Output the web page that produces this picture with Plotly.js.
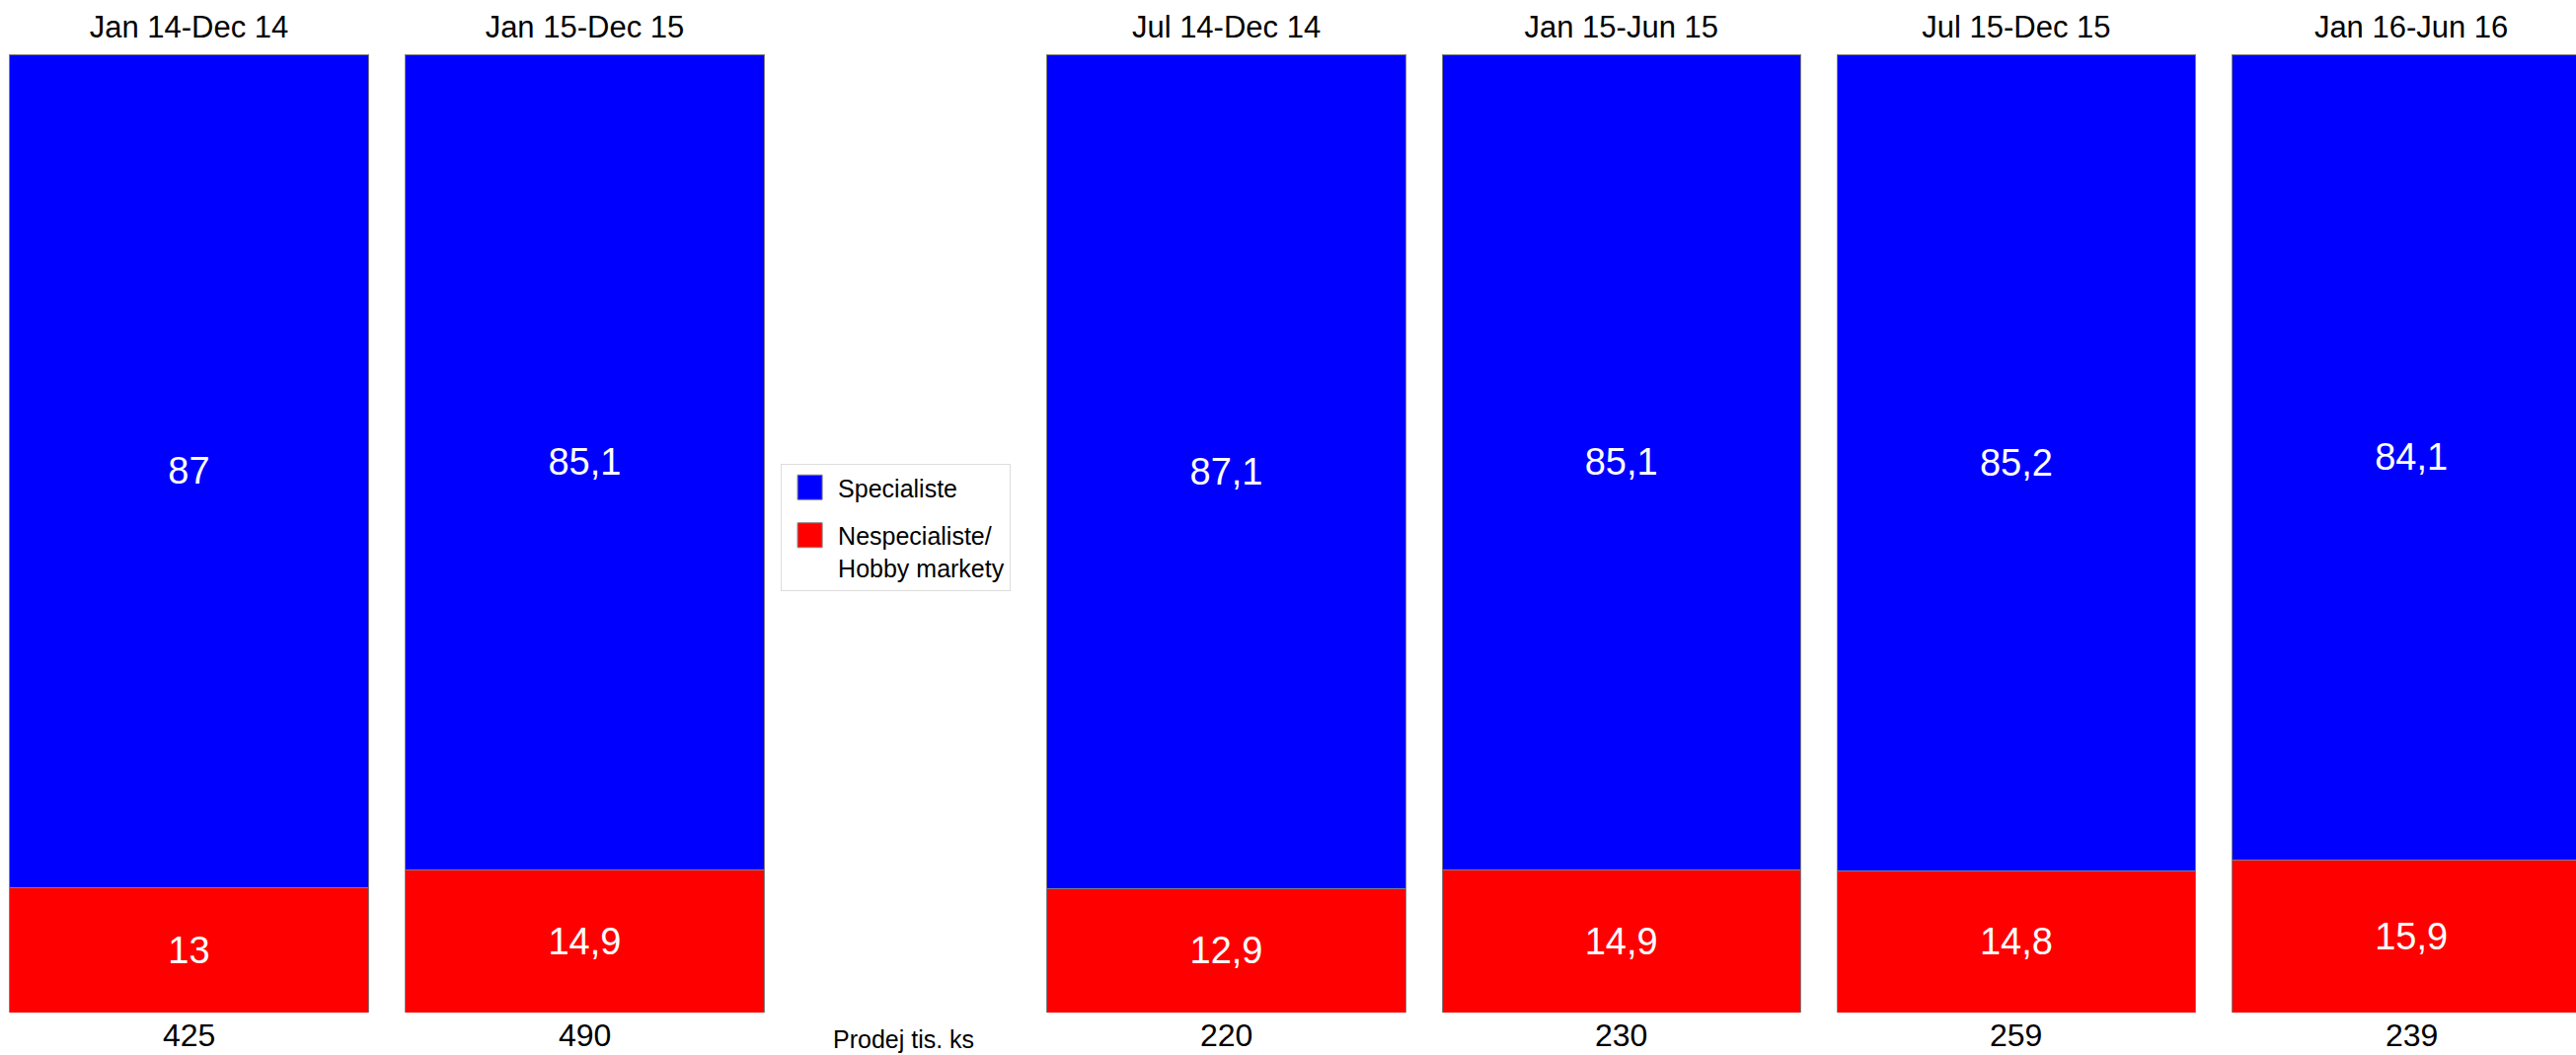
<!DOCTYPE html>
<html>
<head>
<meta charset="utf-8">
<script src="https://cdn.plot.ly/plotly-3.0.1.min.js"></script>
<style>html,body{margin:0;padding:0;background:#fff;}#chart{width:2610px;height:1069px;}</style>
</head>
<body>
<div id="chart"></div>
<script>
// Yearly periods (left group)
const periodsYear = ["Jan 14-Dec 14", "Jan 15-Dec 15"];
const specialisteYear = [87, 85.1];
const nespecialisteYear = [13, 14.9];
const prodejYear = [425, 490];

// Half-year periods (right group)
const periodsHalf = ["Jul 14-Dec 14", "Jan 15-Jun 15", "Jul 15-Dec 15", "Jan 16-Jun 16"];
const specialisteHalf = [87.1, 85.1, 85.2, 84.1];
const nespecialisteHalf = [12.9, 14.9, 14.8, 15.9];
const prodejHalf = [220, 230, 259, 239];

const seriesNames = ["Specialiste", "Nespecialiste/<br>Hobby markety"];
const totalLabel = "Prodej tis. ks";

const FONT = "Liberation Sans, Arial, sans-serif";
const BLUE = "#0000ff", RED = "#ff0000", EDGE = "#808080";
const fmt = v => String(v).replace(".", ",");

function barTrace(cats, vals, name, color, xa, showLegend, group, rank) {
  return {
    type: "bar", x: cats, y: vals, name: name, xaxis: xa, yaxis: "y",
    legendgroup: group, legendrank: rank,
    marker: {color: color, line: {color: EDGE, width: 1}},
    text: vals.map(fmt), textposition: "inside", insidetextanchor: "middle",
    textangle: 0, constraintext: "none",
    textfont: {color: "#ffffff", size: 38, family: FONT},
    showlegend: showLegend, hoverinfo: "skip"
  };
}

const data = [
  barTrace(periodsYear, nespecialisteYear, seriesNames[1], RED, "x", false, "nesp", 2),
  barTrace(periodsYear, specialisteYear, seriesNames[0], BLUE, "x", false, "spec", 1),
  barTrace(periodsHalf, nespecialisteHalf, seriesNames[1], RED, "x2", true, "nesp", 2),
  barTrace(periodsHalf, specialisteHalf, seriesNames[0], BLUE, "x2", true, "spec", 1)
];

const annotations = [];
periodsYear.forEach((c, i) => annotations.push({
  xref: "x", yref: "paper", x: c, y: 0, yanchor: "bottom", yshift: -43,
  text: String(prodejYear[i]), showarrow: false,
  font: {size: 32, color: "#000", family: FONT}
}));
periodsHalf.forEach((c, i) => annotations.push({
  xref: "x2", yref: "paper", x: c, y: 0, yanchor: "bottom", yshift: -43,
  text: String(prodejHalf[i]), showarrow: false,
  font: {size: 32, color: "#000", family: FONT}
}));
annotations.push({
  xref: "paper", yref: "paper", x: 0.3506, y: 0, xanchor: "center", yanchor: "bottom", yshift: -43,
  text: totalLabel, showarrow: false, font: {size: 25, color: "#000", family: FONT}
});

const layout = {
  width: 2610, height: 1069,
  margin: {l: 0, r: 0, t: 55, b: 43, pad: 0},
  paper_bgcolor: "#ffffff", plot_bgcolor: "#ffffff",
  font: {family: FONT, color: "#000"},
  barmode: "stack", bargap: 0.092,
  showlegend: true,
  legend: {
    x: 0.3031, y: 0.5726, xanchor: "left", yanchor: "top",
    bgcolor: "#ffffff", bordercolor: "#dddddd", borderwidth: 1,
    font: {size: 25, color: "#000", family: FONT},
    traceorder: "grouped", tracegroupgap: 13,
    valign: "top", itemwidth: 47
  },
  xaxis: {
    domain: [0, 0.3038], range: [-0.4776, 1.5], type: "category", anchor: "y",
    side: "top", showline: false, showgrid: false, zeroline: false, ticks: "",
    ticklabelstandoff: 10,
    tickfont: {size: 31, color: "#000", family: FONT}, fixedrange: true
  },
  xaxis2: {
    domain: [0.3994, 1], range: [-0.5, 3.417], type: "category", anchor: "y",
    side: "top", showline: false, showgrid: false, zeroline: false, ticks: "",
    ticklabelstandoff: 10,
    tickfont: {size: 31, color: "#000", family: FONT}, fixedrange: true
  },
  yaxis: {
    range: [0, 100], showticklabels: false, showgrid: false, zeroline: false,
    showline: false, ticks: "", fixedrange: true
  },
  annotations: annotations
};

Plotly.newPlot("chart", data, layout, {staticPlot: true, displayModeBar: false}).then(function () {
  // enlarge the legend colour squares to match the reference
  document.querySelectorAll("#chart .legend .legendpoints path").forEach(function (p) {
    var d = p.getAttribute("d") || "";
    if (d.indexOf("M6,6H-6V-6H6Z") === 0) p.setAttribute("d", "M12.5,12.5H-12.5V-12.5H12.5Z");
  });
});
</script>
</body>
</html>
